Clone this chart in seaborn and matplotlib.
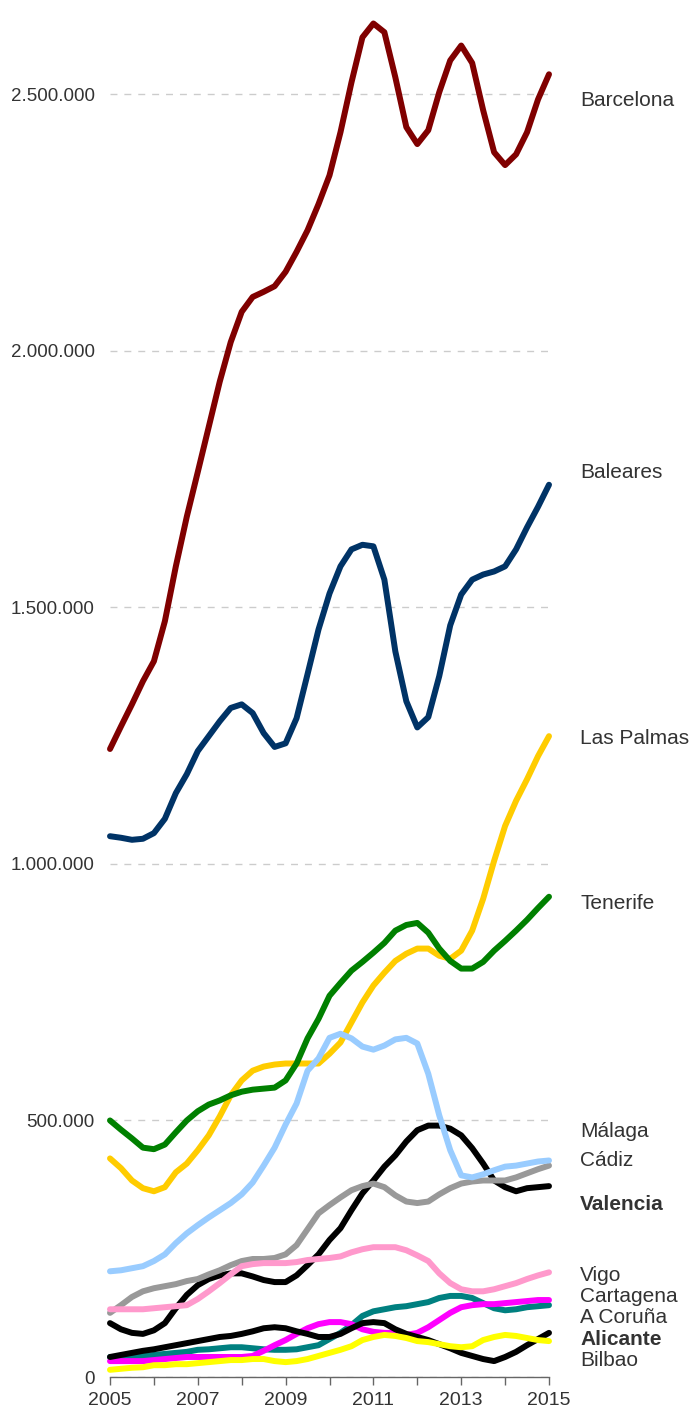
import numpy as np
import pandas as pd
import matplotlib
matplotlib.use("Agg")
import matplotlib.pyplot as plt
import matplotlib.ticker as mticker
import seaborn as sns

years = [2005.0, 2005.25, 2005.5, 2005.75, 2006.0, 2006.25, 2006.5, 2006.75,
         2007.0, 2007.25, 2007.5, 2007.75, 2008.0, 2008.25, 2008.5, 2008.75,
         2009.0, 2009.25, 2009.5, 2009.75, 2010.0, 2010.25, 2010.5, 2010.75,
         2011.0, 2011.25, 2011.5, 2011.75, 2012.0, 2012.25, 2012.5, 2012.75,
         2013.0, 2013.25, 2013.5, 2013.75, 2014.0, 2014.25, 2014.5, 2014.75,
         2015.0]

# values in thousands
barcelona = [1224, 1268, 1311, 1356, 1395, 1473, 1580, 1677, 1764, 1852, 1940, 2017,
             2076, 2105, 2115, 2126, 2154, 2193, 2235, 2286, 2342, 2426, 2523, 2611,
             2638, 2621, 2533, 2436, 2403, 2430, 2504, 2566, 2595, 2561, 2469, 2387,
             2362, 2383, 2426, 2490, 2539]
baleares = [1054, 1051, 1047, 1049, 1060, 1088, 1138, 1175, 1220, 1249, 1278, 1304,
            1311, 1294, 1255, 1228, 1235, 1284, 1370, 1457, 1527, 1580, 1613, 1622,
            1619, 1554, 1414, 1317, 1266, 1286, 1366, 1465, 1525, 1554, 1564, 1570,
            1580, 1613, 1656, 1696, 1739]
las_palmas = [426, 407, 383, 368, 362, 370, 399, 416, 442, 471, 508, 549,
              578, 597, 605, 609, 611, 611, 611, 611, 630, 652, 691, 730,
              763, 788, 811, 825, 835, 835, 821, 815, 831, 870, 932, 1006,
              1074, 1123, 1165, 1210, 1249]
tenerife = [500, 482, 465, 447, 444, 453, 477, 500, 518, 531, 539, 549,
            556, 560, 562, 564, 578, 611, 660, 698, 743, 768, 792, 809,
            827, 846, 870, 881, 885, 866, 835, 811, 796, 796, 809, 831,
            850, 870, 891, 914, 936]
malaga = [206, 208, 212, 216, 226, 239, 261, 280, 296, 311, 325, 339,
          356, 379, 412, 447, 492, 533, 597, 621, 661, 669, 660, 644,
          638, 646, 658, 661, 650, 591, 510, 442, 393, 389, 395, 403,
          410, 412, 416, 420, 422]
cadiz = [125, 140, 156, 167, 173, 177, 181, 187, 191, 200, 208, 218,
         226, 230, 230, 232, 239, 257, 288, 319, 335, 350, 364, 372,
         377, 370, 354, 342, 339, 342, 356, 368, 377, 381, 383, 383,
         383, 389, 397, 405, 412]
valencia = [105, 93, 86, 84, 91, 105, 134, 160, 179, 191, 198, 202,
            202, 196, 189, 185, 185, 198, 218, 239, 267, 290, 325, 358,
            383, 410, 432, 459, 481, 490, 490, 484, 471, 446, 416, 383,
            370, 362, 368, 370, 372]
vigo = [132, 132, 132, 132, 134, 136, 138, 140, 152, 167, 183, 200,
        216, 220, 222, 222, 222, 224, 228, 230, 232, 235, 243, 249,
        253, 253, 253, 247, 237, 226, 202, 183, 171, 167, 167, 171,
        177, 183, 191, 198, 204]
cartagena = [31, 31, 31, 31, 33, 35, 37, 39, 39, 39, 39, 39,
             39, 41, 51, 62, 72, 84, 95, 103, 107, 107, 103, 93,
             88, 86, 86, 82, 86, 97, 111, 125, 136, 140, 142, 142,
             144, 146, 148, 150, 150]
a_coruna = [39, 39, 41, 41, 43, 45, 47, 49, 53, 54, 56, 58,
            58, 56, 54, 53, 53, 54, 58, 62, 74, 86, 101, 119,
            128, 132, 136, 138, 142, 146, 154, 158, 158, 154, 144, 134,
            130, 132, 136, 138, 140]
alicante = [39, 43, 47, 51, 54, 58, 62, 66, 70, 74, 78, 80,
            84, 89, 95, 97, 95, 89, 84, 78, 78, 84, 95, 105,
            107, 105, 93, 84, 78, 72, 64, 56, 47, 41, 35, 31,
            39, 49, 62, 74, 86]
bilbao = [14, 16, 18, 19, 23, 23, 25, 25, 27, 29, 31, 33,
          33, 35, 35, 31, 29, 31, 35, 41, 47, 53, 60, 72,
          78, 82, 80, 76, 70, 68, 64, 60, 58, 60, 72, 78,
          82, 80, 76, 72, 70]

cities = ["Barcelona", "Baleares", "Las Palmas", "Tenerife", "Valencia", "Cádiz",
          "Málaga", "Vigo", "A Coruña", "Cartagena", "Alicante", "Bilbao"]
series = [barcelona, baleares, las_palmas, tenerife, valencia, cadiz,
          malaga, vigo, a_coruna, cartagena, alicante, bilbao]
colors = ["#800000", "#003366", "#FFCC00", "#008000", "#000000", "#999999",
          "#99CCFF", "#FF99CC", "#008080", "#FF00FF", "#000000", "#FFFF00"]

# label placement (layout, dodged)
label_names = ["Barcelona", "Baleares", "Las Palmas", "Tenerife", "Málaga", "Cádiz",
               "Valencia", "Vigo", "Cartagena", "A Coruña", "Alicante", "Bilbao"]
label_y = [2488, 1763, 1245, 922, 479, 422, 337, 198, 156, 115, 74, 33]
bold_labels = ["Valencia", "Alicante"]

y_ticks = [0, 500000, 1000000, 1500000, 2000000, 2500000]
y_tick_labels = ["0", "500.000", "1.000.000", "1.500.000", "2.000.000", "2.500.000"]
x_major = [2005, 2007, 2009, 2011, 2013, 2015]
x_minor = [2006, 2008, 2010, 2012, 2014]

rows = []
for c, s in zip(cities, series):
    for t, v in zip(years, s):
        rows.append({"year": t, "value": v * 1000, "city": c})
df = pd.DataFrame(rows)

sns.set_style("white")
plt.rcParams["font.family"] = ["Liberation Sans", "DejaVu Sans"]

fig = plt.figure(figsize=(6.95, 14.14), dpi=100)
ax = fig.add_axes([110 / 695, 37 / 1414, 439 / 695, 1377 / 1414])

sns.lineplot(data=df, x="year", y="value", hue="city", hue_order=cities,
             palette=dict(zip(cities, colors)), linewidth=4.3, ax=ax,
             legend=False, solid_capstyle="round", clip_on=False)

ax.set_xlim(2005, 2015)
ax.set_ylim(0, 1377 * 1949.0)

ax.set_yticks(y_ticks)
ax.set_yticklabels(y_tick_labels)
ax.set_xticks(x_major)
ax.set_xticklabels([str(x) for x in x_major])
ax.set_xticks(x_minor, minor=True)

ax.grid(axis="y", color="#cccccc", linestyle=(0, (5, 5)), linewidth=1)
ax.grid(axis="x", visible=False)
ax.set_axisbelow(True)

for side in ["top", "right", "left"]:
    ax.spines[side].set_visible(False)
ax.spines["bottom"].set_color("#666666")
ax.spines["bottom"].set_linewidth(1)

ax.tick_params(axis="y", length=0, pad=11, labelsize=13.5, labelcolor="#333333")
ax.tick_params(axis="x", which="both", direction="out", length=6, width=1,
               color="#666666", bottom=True)
ax.tick_params(axis="x", which="major", pad=5, labelsize=14, labelcolor="#333333")

ax.set_xlabel("")
ax.set_ylabel("")

for name, yv in zip(label_names, label_y):
    ax.annotate(name, xy=(2015, yv * 1000), xytext=(31, 0),
                textcoords="offset pixels", va="center", ha="left",
                fontsize=15, color="#333333",
                fontweight="bold" if name in bold_labels else "normal",
                annotation_clip=False)

fig.savefig("out.png", dpi=100)
